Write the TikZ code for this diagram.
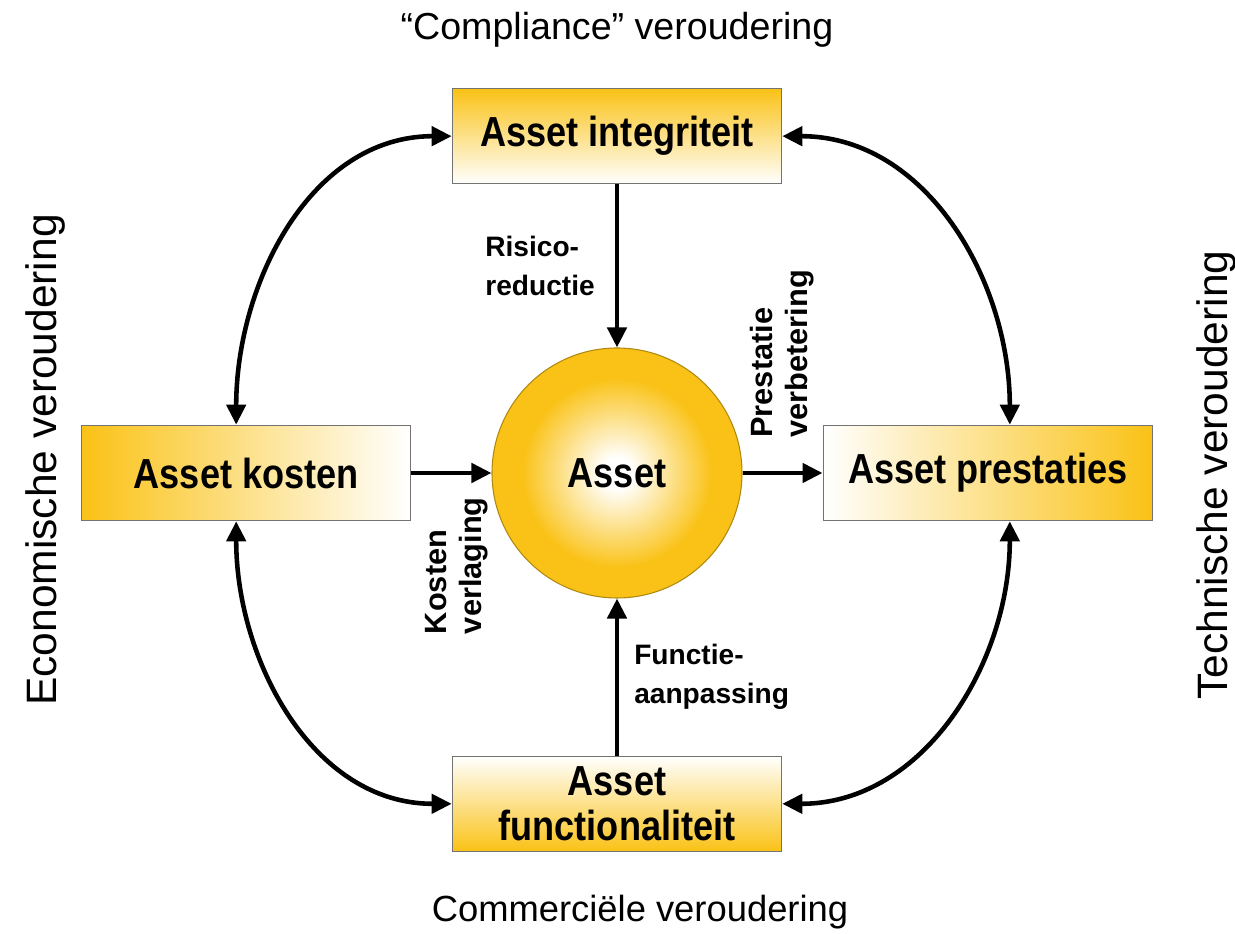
\documentclass[tikz,border=0pt]{standalone}
\usepackage{fontspec}
\setmainfont{Liberation Sans}
\newfontface\boxfont{Liberation Sans Bold}[FakeStretch=0.86]
\usetikzlibrary{arrows.meta,positioning,calc}
\definecolor{assetgold}{RGB}{250,194,22}
\pgfdeclareradialshading{assetglow}{\pgfpoint{0bp}{0bp}}{color(0bp)=(white); color(3bp)=(white); color(19bp)=(assetgold); color(50bp)=(assetgold)}

\tikzset{
  asset/.style={draw=black!55, line width=0.9pt, minimum width=6.58cm, minimum height=1.9cm,
    inner sep=0pt, align=center, font=\boxfont\fontsize{23.9}{25.6}\selectfont},
  link/.style={line width=2.6pt, -{Triangle[length=0.4cm,width=0.38cm]}},
  twoway/.style={line width=2.6pt, {Triangle[length=0.4cm,width=0.38cm]}-{Triangle[length=0.4cm,width=0.38cm]}},
  lbl/.style={inner sep=0pt, align=left, font=\bfseries\fontsize{16}{22.5}\selectfont},
  rlbl/.style={lbl, rotate=90, font=\bfseries\fontsize{17.5}{20}\selectfont},
  age/.style={inner sep=0pt, font=\fontsize{21.4}{24}\selectfont},
  rage/.style={age, rotate=90, font=\fontsize{24.2}{27}\selectfont}
}

\begin{document}
\begin{tikzpicture}
\useasboundingbox (0,0) rectangle (24.7,18.68);

% the asset and its four sides
\node[circle, minimum size=5cm, draw=assetgold!70!black, line width=0.6pt, shading=assetglow,
  font=\boxfont\fontsize{23.9}{25.6}\selectfont] (asset) at (12.34,9.22) {Asset};
\node[asset, above=3.26cm of asset, top color=assetgold, bottom color=white] (integ) {Asset integriteit};
\node[asset, left=1.6cm of asset, left color=assetgold, right color=white] (kosten) {Asset kosten};
\node[asset, right=1.6cm of asset, left color=white, right color=assetgold] (prest) {Asset prestaties};
\node[asset, below=3.14cm of asset, top color=white, bottom color=assetgold] (funct) {Asset\\functionaliteit};

% straight links
\draw[link] (integ) -- node[lbl, left=0.4cm] {Risico-\\reductie} (asset);
\draw[link] (funct) -- node[lbl, right=0.3cm] {Functie-\\aanpassing} (asset);
\draw[link] (kosten) -- (asset);
\draw[link] (asset) -- (prest);
\node[rlbl, anchor=east] (kv) at ($(kosten.east)!0.5!(asset.west)+(0.1,-0.48)$) {Kosten\\verlaging};
\node[rlbl, anchor=west] (pv) at ($(asset.east)!0.5!(prest.west)+(0,0.7)$) {Prestatie\\verbetering};

% round links
\coordinate (kn) at ([xshift=-0.2cm]kosten.north);
\coordinate (ks) at ([xshift=-0.2cm]kosten.south);
\coordinate (pn) at ([xshift=0.44cm]prest.north);
\coordinate (ps) at ([xshift=0.44cm]prest.south);
\foreach \s/\t/\o/\i in {integ.west/kn/180/90, integ.east/pn/0/90, ks/funct.west/-90/180, ps/funct.east/-90/0}
  \draw[twoway] (\s) to[out=\o,in=\i] (\t);

% kinds of ageing
\node[age] (compl) at (12.34,18.08) {“Compliance” veroudering};
\node[age, font=\fontsize{20.7}{24}\selectfont] (comm) at (12.8,0.44) {Commerciële veroudering};
\node[rage] (econ) at (0.92,9.48) {Economische veroudering};
\node[rage] (tech) at (24.32,9.18) {Technische veroudering};

\end{tikzpicture}
\end{document}
